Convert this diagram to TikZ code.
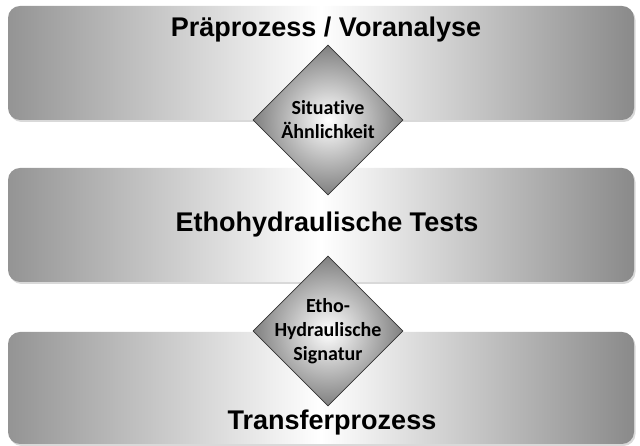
\documentclass[tikz,border=0pt]{standalone}
\usepackage{fontspec}
\setmainfont{Liberation Sans}
\newfontfamily\gatefont[Ligatures=NoCommon]{Carlito}
\usetikzlibrary{shapes.geometric,shadows}

\begin{document}
\begin{tikzpicture}[x=1pt,y=1pt,
  phase/.style={rectangle,rounded corners=12pt,minimum width=626pt,minimum height=114pt,
    left color=black!42,right color=black!46,middle color=white,
    drop shadow={shadow xshift=1.5pt,shadow yshift=-2pt,opacity=0.3}},
  phasetitle/.style={anchor=base,font=\bfseries\fontsize{27}{32}\selectfont},
  gate/.style={diamond,aspect=1,minimum size=150pt,inner sep=0pt,draw=black!80,line width=0.8pt,
    inner color=white,outer color=black!50},
  gatetext/.style={align=center,font=\gatefont\bfseries\fontsize{20}{24}\selectfont}]
  \useasboundingbox (0,0) rectangle (640,446);
  % ============ Phasen (Balken) ============
  \node[phase] (pre) at (321,383) {};
  \node[phase] (test) at (321,221) {};
  \node[phase,minimum height=112pt] (trans) at (321,58) {};
  \node[phasetitle] (pretitle) at (326,409) {Präprozess / Voranalyse};
  \node[phasetitle] (testtitle) at (327,214) {Ethohydraulische Tests};
  \node[phasetitle] (transtitle) at (332,16) {Transferprozess};
  % ============ Übergänge (Rauten) ============
  \node[gate,label={[gatetext]center:Situative\\Ähnlichkeit}] (sim) at (328,326) {};
  \node[gate,label={[gatetext]center:Etho-\\Hydraulische\\Signatur}] (sig) at (328,115) {};
\end{tikzpicture}
\end{document}
